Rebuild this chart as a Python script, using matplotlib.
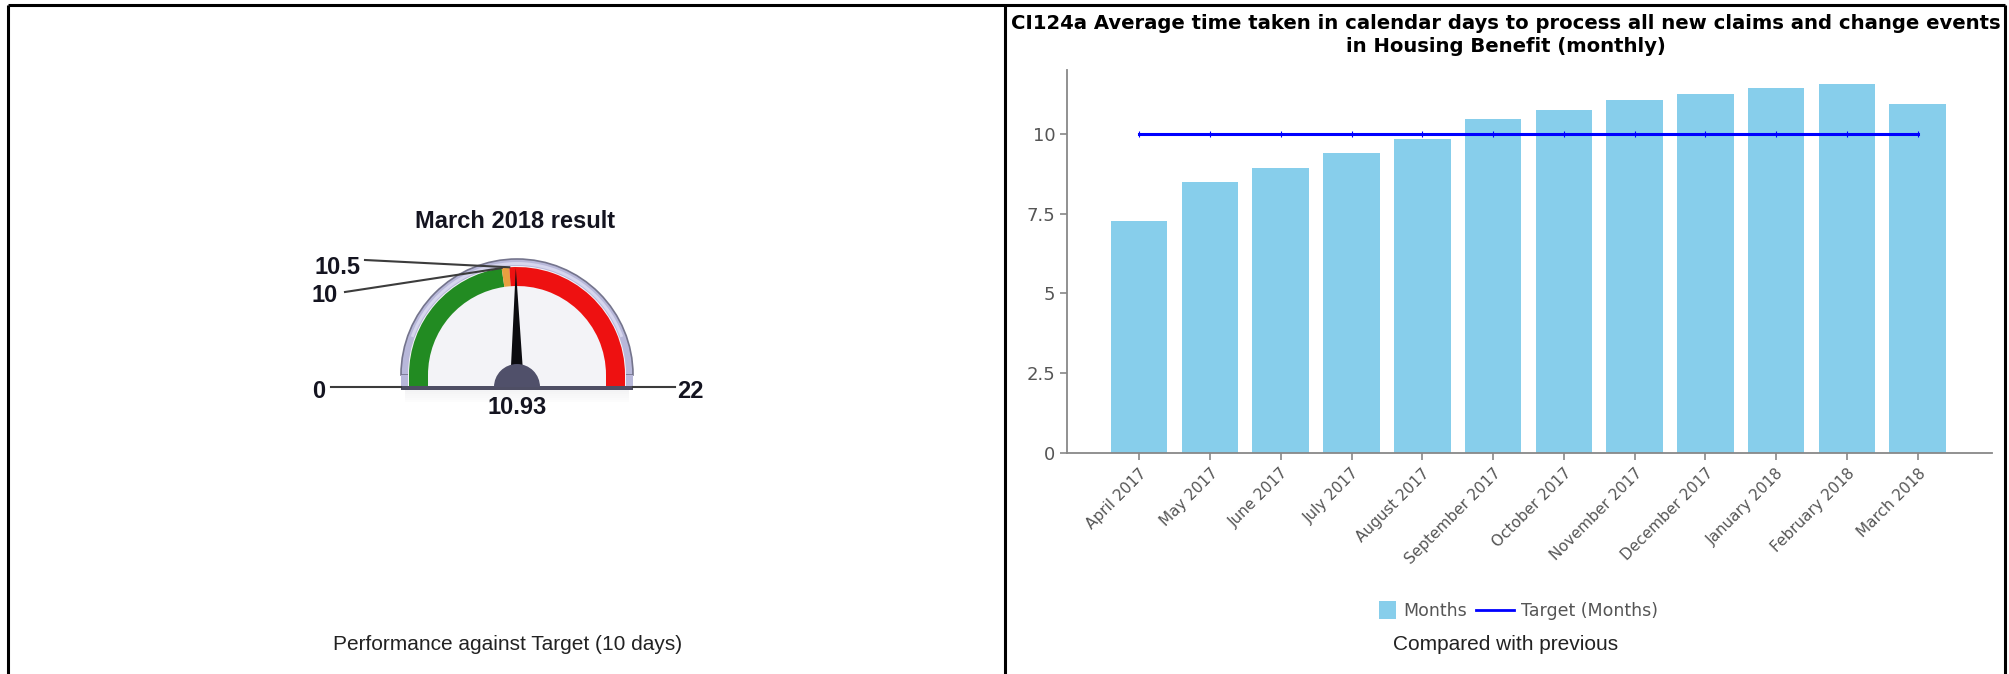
import numpy as np
import matplotlib
matplotlib.use("Agg")
import matplotlib.pyplot as plt
from matplotlib.patches import Wedge, Rectangle, Polygon
from matplotlib.lines import Line2D
from matplotlib.legend_handler import HandlerPatch

# monthly average processing time (days)
months = ["April 2017", "May 2017", "June 2017", "July 2017", "August 2017",
          "September 2017", "October 2017", "November 2017", "December 2017",
          "January 2018", "February 2018", "March 2018"]
avg_days = [7.26, 8.49, 8.92, 9.41, 9.84, 10.46, 10.76, 11.07, 11.26, 11.43, 11.56, 10.93]
target_days = [10] * 12
y_ticks = [0, 2.5, 5, 7.5, 10]
y_tick_labels = ["0", "2.5", "5", "7.5", "10"]

# gauge for the latest month
gauge_value = 10.93
gauge_min, gauge_max = 0, 22
band_edges = [0, 10, 10.5, 22]
band_colors = ["#228b22", "#e8a040", "#ee1111"]

W, H = 2009, 674
fig = plt.figure(figsize=(W / 100, H / 100), dpi=100)


def fx(px):
    return px / W


def fy(py):
    return 1 - py / H


# ---- panel frames ----
frame_kw = dict(color="black", lw=2.2, transform=fig.transFigure, solid_capstyle="butt")
fig.add_artist(Line2D([fx(8), fx(8)], [0, fy(5)], **frame_kw))
fig.add_artist(Line2D([fx(8), fx(2005)], [fy(5), fy(5)], **frame_kw))
fig.add_artist(Line2D([fx(1005), fx(1005)], [0, fy(5)], **frame_kw))
fig.add_artist(Line2D([fx(2005), fx(2005)], [0, fy(5)], **frame_kw))

# ---- gauge (left panel), axes units are pixels, y up ----
gax = fig.add_axes([0, 0, 1006 / W, 1])
gax.set_xlim(0, 1006)
gax.set_ylim(0, H)
gax.axis("off")

cx, cy = 517, 299
base_y = 284
r_bezel, r_band, band_w = 116, 108, 19


def ang(v):
    return 180 - (v - gauge_min) / (gauge_max - gauge_min) * 180


def rim_point(v, r):
    t = np.radians(ang(v))
    return cx + r * np.cos(t), cy + r * np.sin(t)


# soft shadow under the base
for i in range(6):
    gax.add_patch(Rectangle((cx - r_bezel + 4, base_y - 2 - i * 2), 2 * r_bezel - 8, 2,
                            fc="#9090a0", alpha=0.10 - i * 0.015, ec="none"))

# bezel
gax.add_patch(Wedge((cx, cy), r_bezel, 0, 180, fc="#b8b8da", ec="#74748c", lw=1.2))
gax.add_patch(Rectangle((cx - r_bezel, base_y), 2 * r_bezel, cy - base_y, fc="#b8b8da", ec="none"))
gax.add_patch(Wedge((cx, cy), r_bezel - 3, 20, 160, width=3, fc="#d6d6ee", ec="none"))
# dial face
gax.add_patch(Wedge((cx, cy), r_band + 1, 0, 180, fc="#f3f3f7", ec="none"))
gax.add_patch(Rectangle((cx - r_band - 1, base_y + 3), 2 * r_band + 2, cy - base_y - 3,
                        fc="#f3f3f7", ec="none"))

# coloured bands
for lo, hi, col in zip(band_edges[:-1], band_edges[1:], band_colors):
    gax.add_patch(Wedge((cx, cy), r_band, ang(hi), ang(lo), width=band_w, fc=col, ec="none"))
gax.add_patch(Rectangle((cx - r_band, base_y + 3), band_w, cy - base_y - 3, fc=band_colors[0], ec="none"))
gax.add_patch(Rectangle((cx + r_band - band_w, base_y + 3), band_w, cy - base_y - 3,
                        fc=band_colors[-1], ec="none"))

# base strip
gax.add_patch(Rectangle((cx - r_bezel, base_y), 2 * r_bezel, 4, fc="#4e4e64", ec="none"))

# needle
t = np.radians(ang(gauge_value))
d = np.array([np.cos(t), np.sin(t)])
n = np.array([-d[1], d[0]])
pivot = np.array([cx, base_y + 4])
needle = [pivot + d * 118, pivot + n * 7, pivot - n * 7]
gax.add_patch(Polygon(needle, closed=True, fc="#0c0c10", ec="none"))
gax.add_patch(Wedge((cx, base_y + 3), 23, 0, 180, fc="#50506a", ec="none"))

# scale labels and leader lines
lab_kw = dict(ha="center", va="center", fontsize=17, fontweight="bold",
              color="#141420", family="Liberation Sans")
lead_kw = dict(color="#3c3c3c", lw=1.5)
gax.text(319, 283, f"{band_edges[0]:g}", **lab_kw)
gax.plot([331, cx - r_bezel], [287, 287], **lead_kw)
gax.text(690, 282, f"{band_edges[-1]:g}", **lab_kw)
gax.plot([cx + r_bezel, 675], [287, 287], **lead_kw)
x10, y10 = rim_point(band_edges[1], r_band)
gax.text(325, 378, f"{band_edges[1]:g}", **lab_kw)
gax.plot([345, x10], [382, y10], **lead_kw)
x105, y105 = rim_point(band_edges[2], r_band)
gax.text(337, 407, f"{band_edges[2]:g}", **lab_kw)
gax.plot([365, x105], [414, y105], **lead_kw)
gax.text(cx, 267, f"{gauge_value:.2f}", **lab_kw)
gax.text(515, 452, "March 2018 result", **lab_kw)

fig.text(fx(508), fy(645), "Performance against Target (10 days)", ha="center", va="center",
         fontsize=15, color="#222222", family="Liberation Sans")

# ---- bar chart (right panel) ----
ax = fig.add_axes([fx(1067), fy(453), (1992 - 1067) / W, (453 - 70) / H])
x = np.arange(len(months))
bars = ax.bar(x, avg_days, width=0.8, color="#87ceeb", zorder=2)
ax.plot(x, target_days, color="#0000ff", lw=2.2, marker="|", ms=4, mew=0.8, zorder=3)
ax.set_xlim(-1.02, 12.05)
ax.set_ylim(0, 12)
ax.set_yticks(y_ticks)
ax.set_yticklabels(y_tick_labels)
ax.set_xticks(x)
ax.set_xticklabels(months, rotation=45, ha="right", rotation_mode="anchor")
for s in ["top", "right"]:
    ax.spines[s].set_visible(False)
for s in ["left", "bottom"]:
    ax.spines[s].set_color("#888888")
    ax.spines[s].set_linewidth(1.3)
ax.tick_params(axis="both", colors="#888888", length=5, width=1.2)
ax.tick_params(axis="y", labelcolor="#555555", labelsize=13)
ax.tick_params(axis="x", labelcolor="#555555", labelsize=11, pad=4)

fig.text(fx(1506), fy(14), "CI124a Average time taken in calendar days to process all new claims and change events\n"
         "in Housing Benefit (monthly)", ha="center", va="top", fontsize=14.1, fontweight="bold",
         linespacing=1.3, color="black")


def square_patch(legend, orig_handle, xdescent, ydescent, width, height, fontsize):
    s = height * 1.45
    return Rectangle((-xdescent + width - s, -ydescent + (height - s) / 2), s, s)


target_handle = Line2D([], [], color="#0000ff", lw=2)
fig.legend([bars.patches[0], target_handle], ["Months", "Target (Months)"], loc="center",
           bbox_to_anchor=(fx(1508), fy(611)), ncol=2, frameon=False, fontsize=12.5,
           labelcolor="#555555", handlelength=2.2, handletextpad=0.4, columnspacing=0.5,
           handler_map={Rectangle: HandlerPatch(patch_func=square_patch)})
fig.text(fx(1506), fy(645), "Compared with previous", ha="center", va="center",
         fontsize=15, color="#222222", family="Liberation Sans")

fig.savefig("out.png", dpi=100)
